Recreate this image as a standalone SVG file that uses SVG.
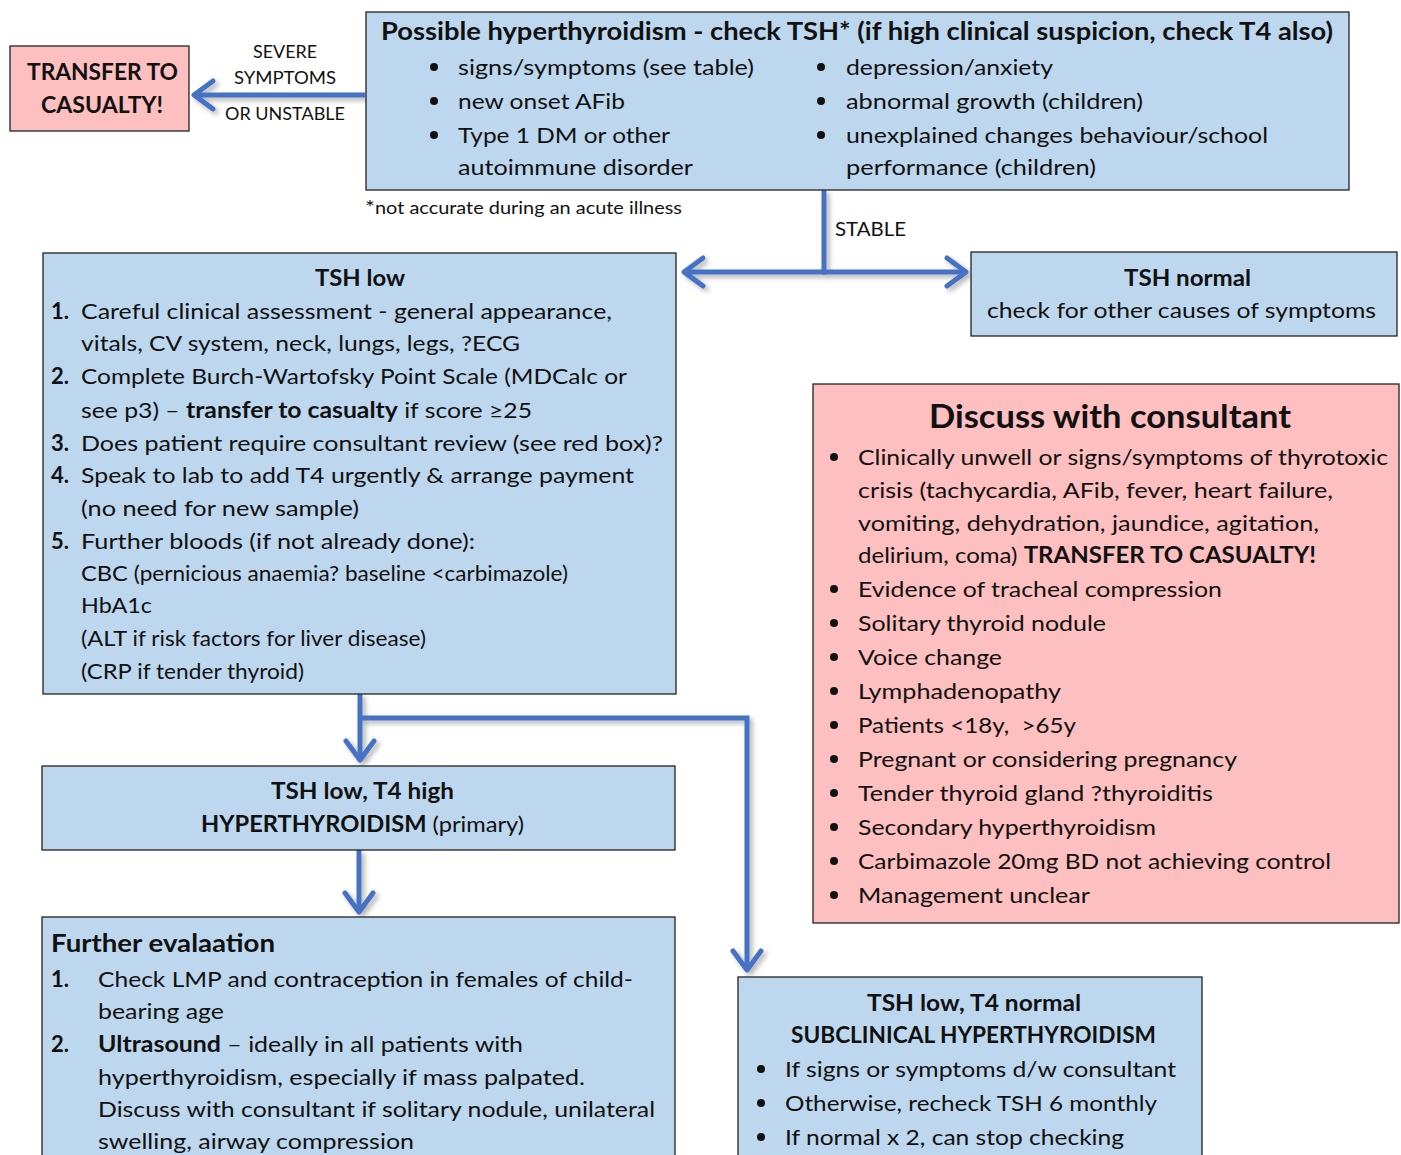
<svg xmlns="http://www.w3.org/2000/svg" width="1401" height="1155" viewBox="0 0 1401 1155">
<style>
text{font-family:Lato,"Open Sans","Noto Sans",sans-serif;fill:#111;}
.b{font-size:22px;}
.s{font-size:21px;}
.lbl{font-size:17px;}
.bold{font-weight:bold;}
.blue{fill:#BDD7EE;stroke:#222;stroke-width:1.3;}
.pink{fill:#FDBFBF;stroke:#222;stroke-width:1.3;}
.conn{fill:none;stroke:#4472C4;stroke-width:5;stroke-linejoin:miter;}
.dot{fill:#111;}
</style>
<defs>
<filter id="sh" x="-10%" y="-10%" width="130%" height="130%">
<feDropShadow dx="3" dy="3" stdDeviation="2.5" flood-color="#000" flood-opacity="0.3"/>
</filter>
<marker id="ah" markerUnits="userSpaceOnUse" viewBox="-24 -18 30 36" refX="0" refY="0" markerWidth="30" markerHeight="36" orient="auto">
<path d="M-19,-14 L0,0 L-19,14" fill="none" stroke="#4472C4" stroke-width="5" stroke-linecap="round" stroke-linejoin="round"/>
</marker>
</defs>

<g id="connectors" filter="url(#sh)">
<path class="conn" d="M365,95 L194,95" marker-end="url(#ah)"/>
<path class="conn" d="M824,190 L824,272"/>
<path class="conn" d="M826,272 L684,272" marker-end="url(#ah)"/>
<path class="conn" d="M822,272 L966,272" marker-end="url(#ah)"/>
<path class="conn" d="M360,694 L360,760" marker-end="url(#ah)"/>
<path class="conn" d="M360,718 L747,718 L747,970" marker-end="url(#ah)"/>
<path class="conn" d="M359,850 L359,912" marker-end="url(#ah)"/>
</g>
<g id="edge-labels">
<text class="lbl" x="253" y="58" textLength="64" lengthAdjust="spacingAndGlyphs">SEVERE</text>
<text class="lbl" x="234" y="84" textLength="102" lengthAdjust="spacingAndGlyphs">SYMPTOMS</text>
<text class="lbl" x="225" y="120" textLength="120" lengthAdjust="spacingAndGlyphs">OR UNSTABLE</text>
<text class="lbl" x="835" y="236" style="font-size:19px" textLength="71" lengthAdjust="spacingAndGlyphs">STABLE</text>
</g>

<g id="transfer">
<rect class="pink" x="10" y="46" width="179" height="85"/>
<text class="bold" x="27" y="80" style="font-size:23px" textLength="151" lengthAdjust="spacingAndGlyphs">TRANSFER TO</text>
<text class="bold" x="41" y="113" style="font-size:23px" textLength="122" lengthAdjust="spacingAndGlyphs">CASUALTY!</text>
</g>

<g id="start">
<rect class="blue" x="366" y="12" width="983" height="178"/>
<text class="bold" x="381" y="40" style="font-size:25px" textLength="952" lengthAdjust="spacingAndGlyphs">Possible hyperthyroidism - check TSH* (if high clinical suspicion, check T4 also)</text>
<circle class="dot" cx="434" cy="67" r="4"/>
<circle class="dot" cx="434" cy="101" r="4"/>
<circle class="dot" cx="434" cy="135" r="4"/>
<circle class="dot" cx="821" cy="67" r="4"/>
<circle class="dot" cx="821" cy="101" r="4"/>
<circle class="dot" cx="821" cy="135" r="4"/>
<text class="b" x="458" y="75" textLength="296" lengthAdjust="spacingAndGlyphs">signs/symptoms (see table)</text>
<text class="b" x="458" y="109" textLength="167" lengthAdjust="spacingAndGlyphs">new onset AFib</text>
<text class="b" x="458" y="143" textLength="212" lengthAdjust="spacingAndGlyphs">Type 1 DM or other</text>
<text class="b" x="458" y="175" textLength="235" lengthAdjust="spacingAndGlyphs">autoimmune disorder</text>
<text class="b" x="846" y="75" textLength="207" lengthAdjust="spacingAndGlyphs">depression/anxiety</text>
<text class="b" x="846" y="109" textLength="297" lengthAdjust="spacingAndGlyphs">abnormal growth (children)</text>
<text class="b" x="846" y="143" textLength="422" lengthAdjust="spacingAndGlyphs">unexplained changes behaviour/school</text>
<text class="b" x="846" y="175" textLength="250" lengthAdjust="spacingAndGlyphs">performance (children)</text>
</g>
<g id="footnote">
<text x="365" y="214" style="font-size:17px" textLength="317" lengthAdjust="spacingAndGlyphs"><tspan style="font-size:20px">*</tspan>not accurate during an acute illness</text>
</g>

<g id="tsh-normal">
<rect class="blue" x="971" y="252" width="426" height="84"/>
<text class="b bold" x="1124" y="286" textLength="127" lengthAdjust="spacingAndGlyphs">TSH normal</text>
<text class="b" x="987" y="318" textLength="389" lengthAdjust="spacingAndGlyphs">check for other causes of symptoms</text>
</g>

<g id="tsh-low">
<rect class="blue" x="43" y="253" width="633" height="441"/>
<text class="b bold" x="315" y="286" textLength="90" lengthAdjust="spacingAndGlyphs">TSH low</text>
<text class="b bold" x="51" y="319">1.</text>
<text class="b" x="81" y="319" textLength="531" lengthAdjust="spacingAndGlyphs">Careful clinical assessment - general appearance,</text>
<text class="b" x="81" y="351" textLength="439" lengthAdjust="spacingAndGlyphs">vitals, CV system, neck, lungs, legs, ?ECG</text>
<text class="b bold" x="51" y="384">2.</text>
<text class="b" x="81" y="384" textLength="546" lengthAdjust="spacingAndGlyphs">Complete Burch-Wartofsky Point Scale (MDCalc or</text>
<text class="b" x="81" y="418" textLength="451" lengthAdjust="spacingAndGlyphs">see p3) – <tspan class="bold">transfer to casualty</tspan> if score ≥25</text>
<text class="b bold" x="51" y="451">3.</text>
<text class="b" x="81" y="451" textLength="582" lengthAdjust="spacingAndGlyphs">Does patient require consultant review (see red box)?</text>
<text class="b bold" x="51" y="483">4.</text>
<text class="b" x="81" y="483" textLength="553" lengthAdjust="spacingAndGlyphs">Speak to lab to add T4 urgently &amp; arrange payment</text>
<text class="b" x="81" y="516" textLength="278" lengthAdjust="spacingAndGlyphs">(no need for new sample)</text>
<text class="b bold" x="51" y="549">5.</text>
<text class="b" x="81" y="549" textLength="394" lengthAdjust="spacingAndGlyphs">Further bloods (if not already done):</text>
<text class="b" x="81" y="581" textLength="487" lengthAdjust="spacingAndGlyphs">CBC <tspan class="s">(pernicious anaemia? baseline &lt;carbimazole)</tspan></text>
<text class="b" x="81" y="613" textLength="71" lengthAdjust="spacingAndGlyphs">HbA1c</text>
<text class="b" x="81" y="646" textLength="345" lengthAdjust="spacingAndGlyphs">(ALT <tspan class="s">if risk factors for liver disease)</tspan></text>
<text class="b" x="81" y="679" textLength="223" lengthAdjust="spacingAndGlyphs">(CRP <tspan class="s">if tender thyroid)</tspan></text>
</g>

<g id="hyper">
<rect class="blue" x="42" y="766" width="633" height="84"/>
<text class="b bold" x="271" y="799" textLength="183" lengthAdjust="spacingAndGlyphs">TSH low, T4 high</text>
<text class="b" x="201" y="832" textLength="323" lengthAdjust="spacingAndGlyphs"><tspan class="bold">HYPERTHYROIDISM</tspan> (primary)</text>
</g>

<g id="further">
<rect class="blue" x="42" y="917" width="633" height="250"/>
<text class="b bold" x="51" y="952" style="font-size:24px" textLength="224" lengthAdjust="spacingAndGlyphs">Further evalaation</text>
<text class="b bold" x="51" y="987">1.</text>
<text class="b" x="98" y="987" textLength="535" lengthAdjust="spacingAndGlyphs">Check LMP and contraception in females of child-</text>
<text class="b" x="98" y="1019" textLength="126" lengthAdjust="spacingAndGlyphs">bearing age</text>
<text class="b bold" x="51" y="1052">2.</text>
<text class="b" x="98" y="1052" textLength="425" lengthAdjust="spacingAndGlyphs"><tspan class="bold">Ultrasound</tspan> – ideally in all patients with</text>
<text class="b" x="98" y="1085" textLength="487" lengthAdjust="spacingAndGlyphs">hyperthyroidism, especially if mass palpated.</text>
<text class="b" x="98" y="1117" textLength="557" lengthAdjust="spacingAndGlyphs">Discuss with consultant if solitary nodule, unilateral</text>
<text class="b" x="98" y="1149" textLength="316" lengthAdjust="spacingAndGlyphs">swelling, airway compression</text>
</g>

<g id="consultant">
<rect class="pink" x="813" y="384" width="586" height="539"/>
<text class="bold" x="929" y="428" style="font-size:32px" textLength="362" lengthAdjust="spacingAndGlyphs">Discuss with consultant</text>
<circle class="dot" cx="834" cy="457" r="4"/>
<circle class="dot" cx="834" cy="589" r="4"/>
<circle class="dot" cx="834" cy="623" r="4"/>
<circle class="dot" cx="834" cy="657" r="4"/>
<circle class="dot" cx="834" cy="691" r="4"/>
<circle class="dot" cx="834" cy="725" r="4"/>
<circle class="dot" cx="834" cy="759" r="4"/>
<circle class="dot" cx="834" cy="793" r="4"/>
<circle class="dot" cx="834" cy="827" r="4"/>
<circle class="dot" cx="834" cy="861" r="4"/>
<circle class="dot" cx="834" cy="895" r="4"/>
<text class="b" x="858" y="465" textLength="530" lengthAdjust="spacingAndGlyphs">Clinically unwell or signs/symptoms of thyrotoxic</text>
<text class="b" x="858" y="498" textLength="475" lengthAdjust="spacingAndGlyphs">crisis (tachycardia, AFib, fever, heart failure,</text>
<text class="b" x="858" y="531" textLength="461" lengthAdjust="spacingAndGlyphs">vomiting, dehydration, jaundice, agitation,</text>
<text class="b" x="858" y="563" textLength="458" lengthAdjust="spacingAndGlyphs">delirium, coma) <tspan class="bold">TRANSFER TO CASUALTY!</tspan></text>
<text class="b" x="858" y="597" textLength="364" lengthAdjust="spacingAndGlyphs">Evidence of tracheal compression</text>
<text class="b" x="858" y="631" textLength="248" lengthAdjust="spacingAndGlyphs">Solitary thyroid nodule</text>
<text class="b" x="858" y="665" textLength="144" lengthAdjust="spacingAndGlyphs">Voice change</text>
<text class="b" x="858" y="699" textLength="203" lengthAdjust="spacingAndGlyphs">Lymphadenopathy</text>
<text class="b" x="858" y="733" textLength="218" lengthAdjust="spacingAndGlyphs" xml:space="preserve">Patients &lt;18y,  &gt;65y</text>
<text class="b" x="858" y="767" textLength="379" lengthAdjust="spacingAndGlyphs">Pregnant or considering pregnancy</text>
<text class="b" x="858" y="801" textLength="355" lengthAdjust="spacingAndGlyphs">Tender thyroid gland ?thyroiditis</text>
<text class="b" x="858" y="835" textLength="298" lengthAdjust="spacingAndGlyphs">Secondary hyperthyroidism</text>
<text class="b" x="858" y="869" textLength="473" lengthAdjust="spacingAndGlyphs">Carbimazole 20mg BD not achieving control</text>
<text class="b" x="858" y="903" textLength="232" lengthAdjust="spacingAndGlyphs">Management unclear</text>
</g>

<g id="subclinical">
<rect class="blue" x="738" y="977" width="464" height="190"/>
<text class="b bold" x="867" y="1011" textLength="214" lengthAdjust="spacingAndGlyphs">TSH low, T4 normal</text>
<text class="b bold" x="791" y="1043" textLength="365" lengthAdjust="spacingAndGlyphs">SUBCLINICAL HYPERTHYROIDISM</text>
<circle class="dot" cx="761" cy="1069" r="4"/>
<circle class="dot" cx="761" cy="1103" r="4"/>
<circle class="dot" cx="761" cy="1137" r="4"/>
<text class="b" x="785" y="1077" textLength="391" lengthAdjust="spacingAndGlyphs">If signs or symptoms d/w consultant</text>
<text class="b" x="785" y="1111" textLength="372" lengthAdjust="spacingAndGlyphs">Otherwise, recheck TSH 6 monthly</text>
<text class="b" x="785" y="1145" textLength="339" lengthAdjust="spacingAndGlyphs">If normal x 2, can stop checking</text>
</g>
</svg>
